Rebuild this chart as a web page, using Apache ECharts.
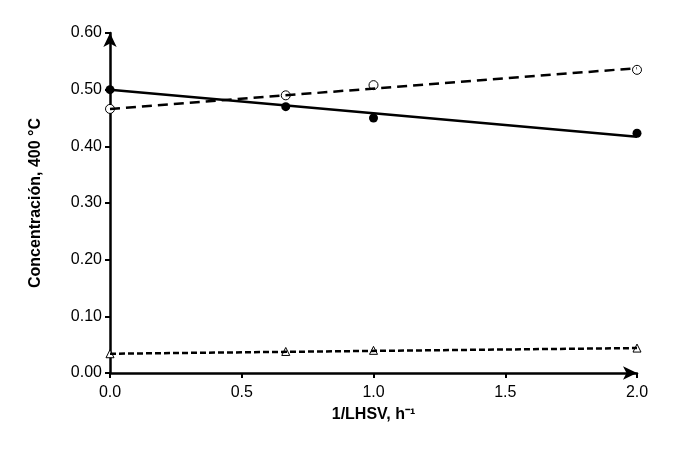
<!DOCTYPE html>
<html>
<head>
<meta charset="utf-8">
<script src="https://cdn.jsdelivr.net/npm/echarts@6/dist/echarts.min.js"></script>
<style>html,body{margin:0;padding:0;background:#fff}#main{width:688px;height:459px}</style>
</head>
<body>
<div id="main"></div>
<script>
// puntos medidos
var xPts = [0, 0.667, 1, 2];
var filled = [0.500, 0.470, 0.450, 0.423];
var open = [0.466, 0.490, 0.508, 0.535];
var tri = [0.034, 0.038, 0.040, 0.044];
// lineas de tendencia (extremos)
var trendX = [0, 2];
var trendFilled = [0.500, 0.417];
var trendOpen = [0.466, 0.538];
var trendTri = [0.034, 0.044];

function pairs(xs, ys) {
	var out = [];
	for (var i = 0; i < xs.length; i++) out.push([xs[i], ys[i]]);
	return out;
}

var chart = echarts.init(document.getElementById('main'));
var font = 'Arial, Liberation Sans, sans-serif';
var axisCommon = {
	axisLine: { show: true, symbol: ['none', 'arrow'], symbolSize: [10, 14], lineStyle: { color: '#000', width: 2.5 } },
	axisTick: { show: true, length: 5, lineStyle: { color: '#000', width: 2 } },
	splitLine: { show: false },
	axisLabel: { color: '#000', fontSize: 16, fontFamily: font },
	nameTextStyle: { color: '#000', fontSize: 16, fontWeight: 'bold', fontFamily: font }
};
var option = {
	animation: false,
	grid: { left: 110, right: 51, top: 33, bottom: 86 },
	xAxis: Object.assign({}, axisCommon, {
		type: 'value', min: 0, max: 2, interval: 0.5,
		name: '1/LHSV, h⁻¹', nameLocation: 'middle', nameGap: 34,
		axisLabel: Object.assign({}, axisCommon.axisLabel, { margin: 12, formatter: function (v) { return v.toFixed(1); } })
	}),
	yAxis: Object.assign({}, axisCommon, {
		type: 'value', min: 0, max: 0.6, interval: 0.1,
		name: 'Concentración, 400 °C', nameLocation: 'middle', nameGap: 66,
		axisLabel: Object.assign({}, axisCommon.axisLabel, { formatter: function (v) { return v.toFixed(2); } })
	}),
	series: [
		{ type: 'line', data: pairs(trendX, trendFilled), showSymbol: false, lineStyle: { color: '#000', width: 2.5 } },
		{ type: 'line', data: pairs(trendX, trendOpen), showSymbol: false, lineStyle: { color: '#000', width: 2.5, type: [10, 6] } },
		{ type: 'line', data: pairs(trendX, trendTri), showSymbol: false, lineStyle: { color: '#000', width: 2.5, type: [6, 3] } },
		{ type: 'scatter', data: pairs(xPts, filled), symbol: 'circle', symbolSize: 9, itemStyle: { color: '#000', opacity: 1 } },
		{ type: 'scatter', data: pairs(xPts, open), symbol: 'circle', symbolSize: 9, itemStyle: { color: '#fff', borderColor: '#000', borderWidth: 1, opacity: 1 } },
		{ type: 'scatter', data: pairs(xPts, tri), symbol: 'triangle', symbolSize: 8, itemStyle: { color: '#fff', borderColor: '#000', borderWidth: 1, opacity: 1 } }
	]
};
chart.setOption(option);
</script>
</body>
</html>
